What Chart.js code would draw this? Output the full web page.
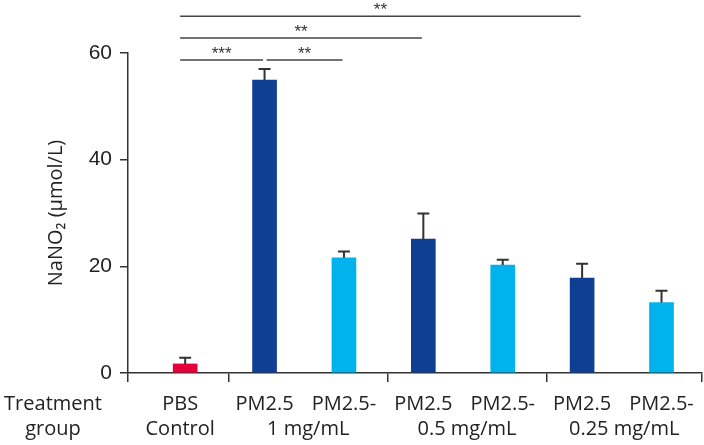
<!DOCTYPE html>
<html>
<head>
<meta charset="utf-8">
<script src="https://cdn.jsdelivr.net/npm/chart.js@4/dist/chart.umd.min.js"></script>
<style>
    html, body { margin: 0; padding: 0; background: #ffffff; }
    #box { width: 704px; height: 445px; }
</style>
</head>
<body>
<div id="box"><canvas id="grafico"></canvas></div>
<script>
// dados
const barras = ["PBS", "PM2.5", "PM2.5-", "PM2.5", "PM2.5-", "PM2.5", "PM2.5-"];
const grupos = ["Control", "1 mg/mL", "0.5 mg/mL", "0.25 mg/mL"];
const valores = [1.7, 54.9, 21.6, 25.1, 20.25, 17.8, 13.2];
const erros = [1.15, 2.1, 1.2, 4.8, 1.0, 2.7, 2.2];
const cores = ['#E4003A', '#0E3F92', '#00B3EC', '#0E3F92', '#00B3EC', '#0E3F92', '#00B3EC'];
const yTicks = [0, 20, 40, 60];
// comparacoes: [barra inicial, barra final, nivel, texto]
const comparacoes = [
    [0, 5, 66.9, '**'],
    [0, 3, 62.8, '**'],
    [0, 1, 58.7, '***'],
    [1, 2, 58.7, '**']
];

const xMin = -0.72;
const xMax = 6.51;
const divisoes = [0.55, 2.55, 4.55];

const fonteTexto = '"Open Sans", sans-serif';

const pluginExtras = {
    id: 'extras',
    afterDatasetsDraw(chart) {
        const ctx = chart.ctx;
        const x = chart.scales.x;
        const y = chart.scales.y;
        const meta = chart.getDatasetMeta(0);

        // barras de erro (so para cima)
        ctx.save();
        ctx.strokeStyle = '#333333';
        ctx.lineWidth = 2;
        meta.data.forEach(function (bar, i) {
            const topo = y.getPixelForValue(valores[i]);
            const fim = y.getPixelForValue(valores[i] + erros[i]);
            ctx.beginPath();
            ctx.moveTo(bar.x, topo);
            ctx.lineTo(bar.x, fim);
            ctx.moveTo(bar.x - 6, fim);
            ctx.lineTo(bar.x + 6, fim);
            ctx.stroke();
        });

        // linhas de significancia
        ctx.strokeStyle = '#444444';
        ctx.lineWidth = 1.5;
        ctx.fillStyle = '#333333';
        ctx.font = '17px "Liberation Sans", Arial, sans-serif';
        ctx.textAlign = 'center';
        ctx.textBaseline = 'alphabetic';
        comparacoes.forEach(function (c) {
            const x1 = c[0] === 0 ? meta.data[0].x - 5 : meta.data[c[0]].x + 2;
            const x2 = meta.data[c[1]].x - 1.5;
            const yy = y.getPixelForValue(c[2]);
            ctx.beginPath();
            ctx.moveTo(x1, yy);
            ctx.lineTo(x2, yy);
            ctx.stroke();
            ctx.fillText(c[3], (x1 + x2) / 2, yy - 1);
        });

        // rotulos do eixo x
        ctx.fillStyle = '#222222';
        ctx.font = '20px ' + fonteTexto;
        ctx.textBaseline = 'middle';
        const linha1 = 404;
        const linha2 = 429;
        ctx.fillText('Treatment', 53, linha1);
        ctx.fillText('group', 53, linha2);
        barras.forEach(function (txt, i) {
            const dx = i === 0 ? -5 : 0;
            ctx.fillText(txt, meta.data[i].x + dx, linha1);
        });
        const limites = [xMin].concat(divisoes).concat([xMax]);
        grupos.forEach(function (txt, g) {
            let cx;
            if (g === 0) {
                cx = meta.data[0].x - 5;
            } else {
                cx = (x.getPixelForValue(limites[g]) + x.getPixelForValue(limites[g + 1])) / 2;
            }
            ctx.fillText(txt, cx, linha2);
        });
        ctx.restore();
    }
};

const grafico = document.getElementById("grafico");

const data_grafico = {
    datasets: [
        {
            label: 'NaNO2',
            data: valores.map(function (v, i) { return { x: i, y: v }; }),
            backgroundColor: cores,
            borderWidth: 0,
            barThickness: 24
        }
    ]
};

const config_grafico = {
    type: 'bar',
    data: data_grafico,
    options: {
        responsive: true,
        maintainAspectRatio: false,
        animation: false,
        layout: {
            padding: { top: 53, right: 2, left: 0, bottom: 0 }
        },
        scales: {
            x: {
                type: 'linear',
                min: xMin,
                max: xMax,
                offset: false,
                afterBuildTicks: function (scale) {
                    scale.ticks = [xMin].concat(divisoes).concat([xMax]).map(function (v) { return { value: v }; });
                },
                afterFit: function (scale) {
                    scale.height = 72;
                },
                border: { color: '#333333', width: 1.5 },
                grid: {
                    offset: false,
                    drawOnChartArea: false,
                    color: '#333333',
                    lineWidth: 1.5,
                    tickLength: 9
                },
                ticks: { display: false }
            },
            y: {
                min: 0,
                max: 60,
                afterBuildTicks: function (scale) {
                    scale.ticks = yTicks.map(function (v) { return { value: v }; });
                },
                afterFit: function (scale) {
                    scale.width = 128;
                },
                border: { color: '#333333', width: 1.5 },
                grid: {
                    drawOnChartArea: false,
                    color: '#333333',
                    lineWidth: 1.5,
                    tickLength: 8
                },
                ticks: {
                    color: '#222222',
                    padding: 8,
                    font: {
                        size: 21,
                        family: '"Liberation Sans", Arial, sans-serif'
                    }
                },
                title: {
                    display: true,
                    text: 'NaNO₂ (μmol/L)',
                    color: '#222222',
                    padding: { top: 44, bottom: 0 },
                    font: {
                        size: 20,
                        family: fonteTexto
                    }
                }
            }
        },
        plugins: {
            legend: { display: false },
            tooltip: { enabled: false }
        }
    },
    plugins: [pluginExtras]
};

const grafico_1 = new Chart(grafico, config_grafico);
</script>
</body>
</html>
